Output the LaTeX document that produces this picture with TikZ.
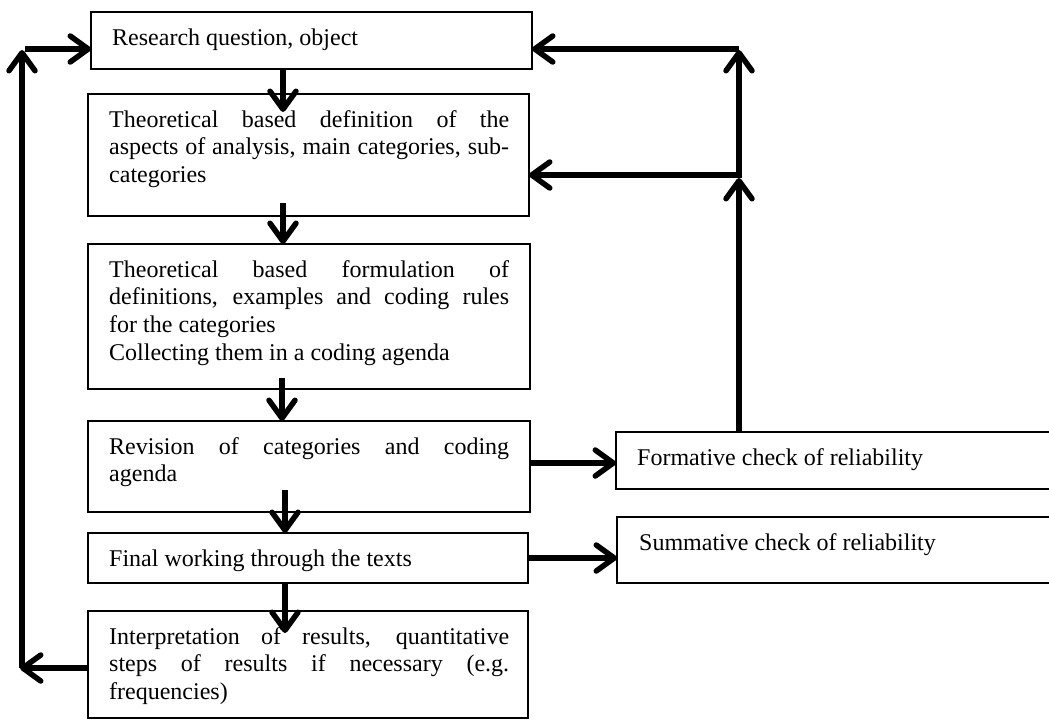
\documentclass[tikz,border=0pt]{standalone}
\usepackage{fontspec}
\setmainfont{Liberation Serif}
\usetikzlibrary{arrows.meta}
\newcommand{\fstrut}{\rule{0pt}{18pt}}
\tikzset{
  box/.style={draw, line width=1.7pt, anchor=north west, inner sep=0pt, outer sep=0pt},
  txt/.style={anchor=north west, inner sep=0pt, text width=400pt, align=justify,
    font={\fontsize{24}{27.6}\selectfont\hyphenpenalty=10000 \tolerance=9999 \parindent=0pt }},
  stxt/.style={anchor=north west, inner sep=0pt, font={\fontsize{24}{27.6}\selectfont}},
  conn/.style={line width=5.5pt, -{Straight Barb[length=18pt,width=26pt,round]}},
}
\begin{document}
\begin{tikzpicture}[x=1pt,y=-1pt]
\path[use as bounding box, clip] (0,0) rectangle (1049,720);
% boxes
\node[box, minimum width=441pt, minimum height=57pt]  (b1) at (91,12) {};
\node[box, minimum width=441pt, minimum height=122pt] (b2) at (88,94) {};
\node[box, minimum width=442pt, minimum height=145pt] (b3) at (88,244) {};
\node[box, minimum width=442pt, minimum height=91pt]  (b4) at (88,421) {};
\node[box, minimum width=440pt, minimum height=50pt]  (b5) at (88,533) {};
\node[box, minimum width=440pt, minimum height=107pt] (b6) at (88,611) {};
\node[box, minimum width=454pt, minimum height=57pt]  (f)  at (616,432) {};
\node[box, minimum width=454pt, minimum height=66pt]  (s)  at (617,517) {};
% texts
\node[stxt] (t1) at (112,27) {\fstrut Research question, object};
\node[txt]  (t2) at (109,109) {\fstrut Theoretical based definition of the\linebreak aspects of analysis, main categories, sub-\linebreak categories};
\node[txt]  (t3) at (109,259) {\fstrut Theoretical based formulation of\linebreak definitions, examples and coding rules\linebreak for the categories\par Collecting them in a coding agenda};
\node[txt]  (t4) at (109,436) {\fstrut Revision of categories and coding\linebreak agenda};
\node[stxt] (t5) at (109,548) {\fstrut Final working through the texts};
\node[txt]  (t6) at (109,626) {\fstrut Interpretation of results, quantitative\linebreak steps of results if necessary (e.g.\linebreak frequencies)};
\node[stxt] (tf) at (637,447) {\fstrut Formative check of reliability};
\node[stxt] (ts) at (639,532) {\fstrut Summative check of reliability};
% helper coordinates
\coordinate (x282) at (282,0);
\coordinate (x283) at (283,0);
\coordinate (x285) at (285,0);
\coordinate (y463) at (0,463);
\coordinate (r0) at (739,50);
\coordinate (r1) at (739,178);
\coordinate (r0h) at (739,49);
\coordinate (r1h) at (739,175);
\coordinate (l0) at (22,50);
\coordinate (l1) at (22,668);
\coordinate (l1e) at (20,668);
\coordinate (l0h) at (25,49);
% main chain
\draw[conn] (x283 |- b1.south) -- ([yshift=-18pt]x283 |- b2.north);
\draw[conn] ([yshift=13pt]x283 |- b2.south) -- (x283 |- b3.north);
\draw[conn] ([yshift=11pt]x282 |- b3.south) -- (x282 |- b4.north);
\draw[conn] ([yshift=22pt]x285 |- b4.south) -- (x285 |- b5.north);
\draw[conn] (x285 |- b5.south) -- ([yshift=-22pt]x285 |- b6.north);
% to checks
\draw[conn] (b4.east |- y463) -- (f.west |- y463);
\draw[conn] (b5.east) -- (s.west |- b5.east);
% right feedback
\draw[conn] (r1 |- f.north) -- (r1);
\draw[conn] (r1) -- (r0);
\draw[conn] (r1h) -- (b2.east |- r1h);
\draw[conn] (r0h) -- (b1.east |- r0h);
% left feedback
\draw[conn] (b6.west |- l1) -- (l1e);
\draw[conn] (l1) -- (l0);
\draw[conn] (l0h) -- (b1.west |- l0h);
\end{tikzpicture}
\end{document}
